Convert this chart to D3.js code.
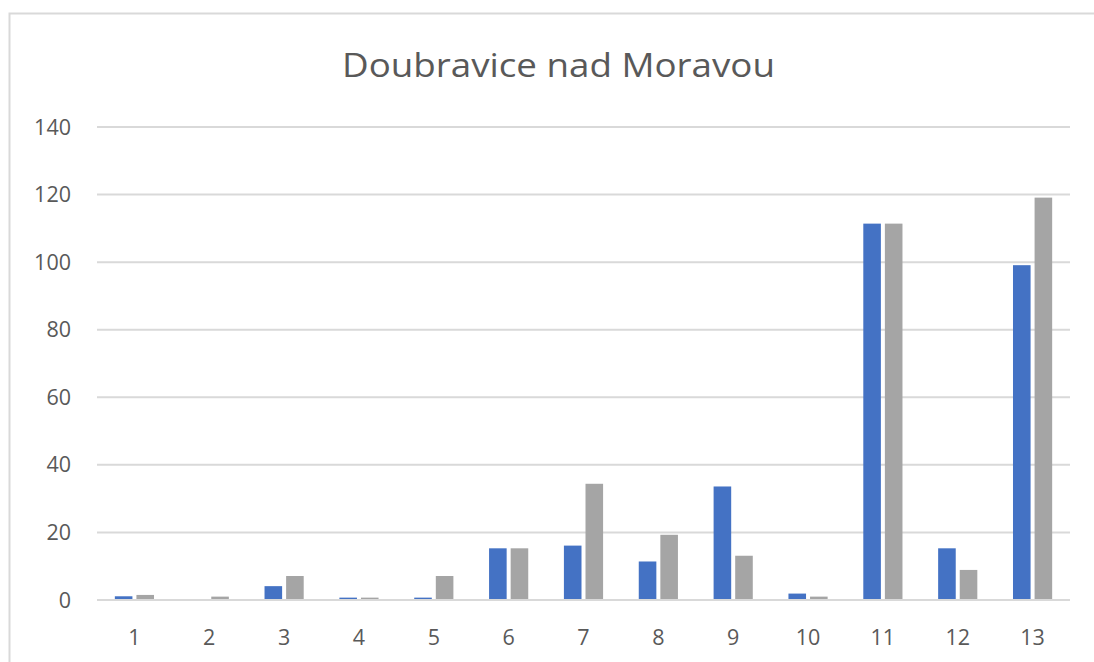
<!DOCTYPE html>
<html>
<head>
<meta charset="utf-8">
<script src="https://cdn.jsdelivr.net/npm/d3@7/dist/d3.min.js"></script>
<style>
  html, body { margin: 0; padding: 0; background: #fff; }
  svg { display: block; }
</style>
</head>
<body>
<svg id="chart" width="1094" height="662"></svg>
<script>
// Chart data
const title = "Doubravice nad Moravou";
const categories = ["1","2","3","4","5","6","7","8","9","10","11","12","13"];
const seriesA = [1.1, 0, 4.1, 0.7, 0.7, 15.3, 16.1, 11.4, 33.6, 1.9, 111.4, 15.3, 99.1];
const seriesB = [1.5, 1.0, 7.1, 0.7, 7.1, 15.3, 34.4, 19.3, 13.1, 1.0, 111.4, 8.9, 119.1];
const yTicks = [0, 20, 40, 60, 80, 100, 120, 140];
const colors = ["#4472C4", "#A5A5A5"];

const svg = d3.select("#chart");
const W = 1094, H = 662;
const plot = { left: 97, right: 1070, top: 127, bottom: 600 };
const font = "'Open Sans', 'Segoe UI', sans-serif";
const textColor = "#595959";

// Chart area frame
svg.append("rect")
  .attr("x", 9.5).attr("y", 13.5)
  .attr("width", W).attr("height", H)
  .attr("fill", "#fff")
  .attr("stroke", "#d9d9d9").attr("stroke-width", 2);

const x = d3.scaleBand()
  .domain(categories)
  .range([plot.left, plot.right])
  .paddingInner(0).paddingOuter(0);

const y = d3.scaleLinear()
  .domain([0, 140])
  .range([plot.bottom, plot.top]);

// Gridlines
svg.append("g")
  .selectAll("line")
  .data(yTicks)
  .join("line")
  .attr("x1", plot.left).attr("x2", plot.right)
  .attr("y1", d => y(d)).attr("y2", d => y(d))
  .attr("stroke", "#d9d9d9").attr("stroke-width", 2);

// Y tick labels
svg.append("g")
  .selectAll("text")
  .data(yTicks)
  .join("text")
  .attr("x", 71)
  .attr("y", d => y(d) + 7.5)
  .attr("text-anchor", "end")
  .attr("font-family", font)
  .attr("font-size", 21.5)
  .attr("fill", textColor)
  .text(d => d);

// Bars
const barW = x.bandwidth() * 0.235;
const gap = 4;
const series = [seriesA, seriesB];
series.forEach((vals, si) => {
  svg.append("g")
    .selectAll("rect")
    .data(vals.map((v, i) => ({ c: categories[i], v })))
    .join("rect")
    .attr("x", d => x(d.c) + x.bandwidth() / 2 + (si === 0 ? -gap / 2 - barW : gap / 2))
    .attr("y", d => y(d.v))
    .attr("width", barW)
    .attr("height", d => y(0) - y(d.v))
    .attr("fill", colors[si]);
});

// X axis line
svg.append("line")
  .attr("x1", plot.left).attr("x2", plot.right)
  .attr("y1", y(0)).attr("y2", y(0))
  .attr("stroke", "#d9d9d9").attr("stroke-width", 2);

// Category labels
svg.append("g")
  .selectAll("text")
  .data(categories)
  .join("text")
  .attr("x", d => x(d) + x.bandwidth() / 2)
  .attr("y", 645)
  .attr("text-anchor", "middle")
  .attr("font-family", font)
  .attr("font-size", 21.5)
  .attr("fill", textColor)
  .text(d => d);

// Title
svg.append("text")
  .attr("x", 558.5)
  .attr("y", 77)
  .attr("text-anchor", "middle")
  .attr("font-family", font)
  .attr("font-size", 33)
  .attr("textLength", 433)
  .attr("lengthAdjust", "spacingAndGlyphs")
  .attr("fill", textColor)
  .text(title);
</script>
</body>
</html>
